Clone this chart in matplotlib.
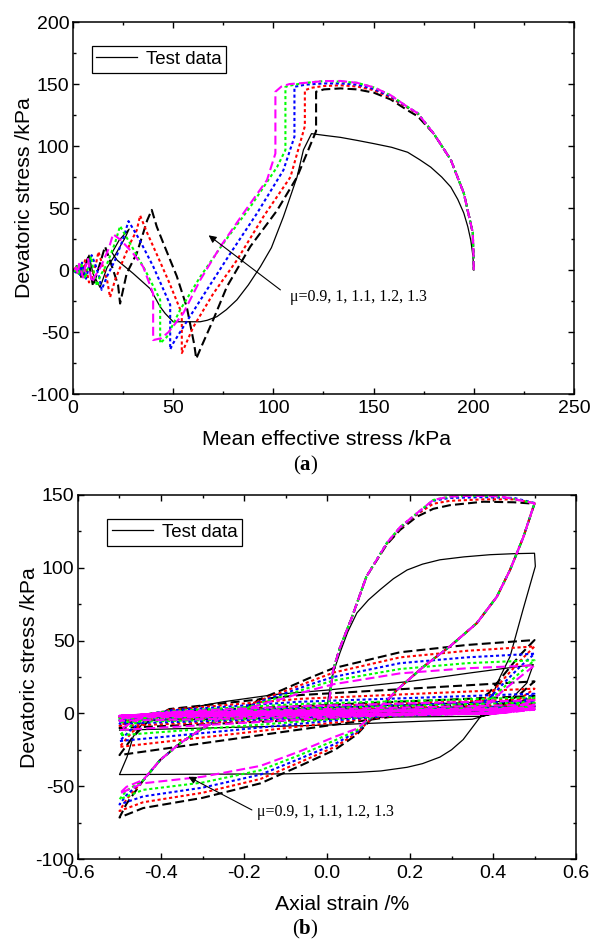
import numpy as np
import matplotlib
matplotlib.use('Agg')
import matplotlib.pyplot as plt
from matplotlib.ticker import MultipleLocator, FormatStrFormatter

plt.rcParams['font.family'] = ['Liberation Sans', 'DejaVu Sans']
plt.rcParams['axes.unicode_minus'] = False
plt.rcParams['mathtext.fontset'] = 'custom'
plt.rcParams['mathtext.rm'] = 'Liberation Serif'
plt.rcParams['mathtext.bf'] = 'Liberation Serif:bold'

# ---------------- (a) stress path: mean effective stress p vs deviatoric stress q
test_pq = [(200, 0), (199.5, 12), (198.5, 24), (197, 35), (195, 46), (192, 57), (188.5, 67),
           (184, 75), (178.5, 83), (173, 89), (167, 95), (159, 99), (150, 102), (142, 104.5),
           (133.5, 107), (126, 108.5), (119, 110), (115, 97), (111.8, 75), (105, 43),
           (99, 18), (93.5, 2.7), (87.5, -12), (81.8, -24), (76.5, -32), (71.8, -37.6),
           (67, -40.5), (63.5, -41.7), (50, -41.7), (46, -35), (43.5, -29.6), (38.5, -15),
           (30, -2.7), (22, 8), (19.5, 14), (23, 24), (28, 33), (26, 26), (21, 12), (17, 2),
           (13.5, -14), (10, -3), (8, 12), (6, 4), (4, -6), (2.5, 3), (1.5, -2), (0.5, 1),
           (0, 0)]

black_pq = [(200, 0), (199.5, 30), (195, 62), (188.5, 89), (180, 110), (172, 124), (166.8, 129),
            (158.5, 137.6), (150.2, 143), (141.8, 145.7), (133.5, 146.5), (125.2, 145.7),
            (121.3, 143.8), (121.3, 112), (111.8, 75), (101.8, 48), (88.5, 19), (76.8, -13.4),
            (70, -40), (64, -62), (61.5, -71.5), (60.5, -60), (56.8, -30), (51.8, -5), (45, 22),
            (41.8, 35), (39.3, 48.5), (37, 40), (35, 29.6), (31.8, 13.4), (26.8, -2.7),
            (23.5, -27), (22.5, -12), (19, 5), (16, 19), (14, 8), (11.5, -5), (10, -13),
            (9, -4), (7.5, 10), (6, 2), (5, -7), (4, 3), (3, -3), (2, 4), (1, -1), (0, 0)]

red_pq = [(200, 0), (199.5, 30), (195, 62), (188.5, 89), (180, 110), (172, 126), (166.8, 131),
          (158.5, 139), (150.2, 145), (141.8, 148), (133.5, 149), (125, 148.4), (119, 147),
          (115.7, 145), (115.7, 116), (108.5, 75), (95, 43), (81.8, 8), (70, -19), (60, -46),
          (55, -64.5), (54.3, -67), (54.3, -35), (48, -10), (42, 12), (37, 30), (33.5, 44),
          (31.8, 32), (28.5, 21.5), (25, 8), (21, -8), (18.5, -22), (17, -8), (14.5, 5),
          (12.7, 14.8), (11.5, 5), (9.5, -5), (8, -10), (7, -2), (6, 8), (4.5, -5), (3.5, 3),
          (2.5, -3), (1.5, 2), (0, 0)]

blue_pq = [(200, 0), (199.5, 30), (195, 62), (188.5, 89), (180, 110), (172, 126.5),
           (166.8, 131.5), (158.5, 140), (150.2, 146), (141.8, 149.5), (133.5, 150.5),
           (125, 150.5), (116, 149.5), (110.5, 147.8), (110.5, 107.5), (105, 80.6),
           (91.8, 45.7), (78.5, 13.4), (66.8, -16), (55, -46), (50, -59), (48.5, -64),
           (48.5, -28), (40, 3), (33, 25), (27.7, 39.5), (25, 25), (21, 8), (17, -5),
           (14.3, -16), (13, -5), (11, 5), (9.3, 12), (8, 3), (6.5, -7), (5.5, -1), (4.5, 6),
           (3.5, -4), (2.5, 3), (1.5, -2), (0, 0)]

green_pq = [(200, 0), (199.5, 30), (195, 62), (188.5, 89), (180, 110), (172, 126.5),
            (166.8, 131.7), (158.5, 141), (150.2, 147.3), (141.8, 151), (133.5, 152),
            (125, 152.4), (116, 151), (109, 149), (106, 147.8), (106, 96.8), (101.8, 83),
            (88.5, 51), (75, 21.5), (63.5, -5.4), (53.5, -32), (46.8, -54), (43.5, -59),
            (43.5, -24), (36, 0), (29, 20), (23.5, 35.5), (21, 22), (17, 5), (13.5, -5),
            (12, -13), (10.5, -3), (9, 11), (7.5, 2), (6, -7), (5, 0), (4, 6), (3, -4),
            (2, 3), (1, -1), (0, 0)]

magenta_pq = [(200, 0), (199.5, 30), (195, 62), (188.5, 89), (180, 110), (172, 126.5),
              (166.8, 131.7), (158.5, 141), (150.2, 147.3), (141.8, 151), (133.5, 152.5),
              (125, 152.4), (116, 151), (108, 150), (104, 148), (101, 143.8), (101, 94),
              (96.8, 72.6), (85, 45.7), (73.5, 18.8), (63.5, -8), (55, -35), (47.7, -50),
              (44, -55), (40, -56.5), (40, -19), (35, 2.7), (30, 13.4), (24, 24), (20, 29),
              (18, 18), (14, 3), (11, -5), (9.5, -10), (8.5, -2), (7.5, 9), (6, 2), (5, -6),
              (4, 0), (3, 5), (2.5, -3), (1.5, 2), (0.5, -1), (0, 0)]

# ---------------- (b) axial strain vs deviatoric stress
test_eq = [(0, 0), (0.003, 11), (0.015, 28), (0.031, 41.5), (0.05, 56), (0.072, 69),
           (0.1, 78), (0.128, 85), (0.16, 92.5), (0.193, 98.5), (0.23, 102.5), (0.272, 105.5),
           (0.33, 107.5), (0.393, 109), (0.45, 109.7), (0.5, 110), (0.502, 101), (0.472, 71),
           (0.441, 39), (0.417, 25), (0.393, 9), (0.369, -2.5), (0.328, -18), (0.3, -25),
           (0.272, -30), (0.23, -34.5), (0.193, -37), (0.13, -39.5), (0.072, -40.5),
           (-0.1, -41.5), (-0.5, -42), (-0.482, -30), (-0.467, -16), (-0.434, -2.5),
           (-0.386, 1), (-0.337, 3.5), (-0.25, 8), (-0.125, 13), (0.0, 16), (0.2, 22),
           (0.35, 28), (0.497, 33.5), (0.481, 20.7), (0.457, 13.8), (0.433, 7), (0.4, 0),
           (0.35, -4), (0.0, -8), (-0.5, -11.5), (-0.46, -4), (-0.4, 0), (0.0, 4), (0.5, 9),
           (0.45, 2), (0.37, -2), (-0.065, -3), (-0.5, -5), (-0.45, -1), (0.5, 5), (0.42, 0),
           (-0.5, -3), (0.5, 3)]

black_eq = [(0, 0), (0.005, 8), (0.015, 30), (0.031, 45), (0.06, 66), (0.095, 94), (0.144, 116),
            (0.176, 126), (0.216, 135), (0.256, 140.5), (0.296, 143), (0.377, 145.4),
            (0.45, 145), (0.5, 144),
            (0.473, 121), (0.441, 98.5), (0.409, 80), (0.361, 62), (0.296, 46), (0.232, 32),
            (0.168, 16), (0.112, -2.3), (0.072, -14.5), (0.019, -25), (-0.065, -36),
            (-0.16, -48), (-0.3, -58), (-0.443, -65), (-0.5, -71.5),
            (-0.483, -62), (-0.443, -46), (-0.402, -32), (-0.354, -20.5), (-0.306, -11.4),
            (-0.258, -3.4), (-0.214, 1.2), (-0.157, 10.4), (-0.109, 16), (-0.045, 24),
            (0.015, 31), (0.176, 42), (0.337, 47), (0.5, 50.4),
            (0.465, 40), (0.43, 28), (0.39, 14), (0.34, 5), (0.011, -8), (-0.5, -28.6),
            (-0.47, -17), (-0.43, -5), (-0.38, 3), (-0.065, 12.6), (0.5, 22),
            (0.46, 12), (0.4, 3), (0.3, 0), (-0.5, -10), (-0.45, -2), (-0.4, 1), (0.5, 12),
            (0.44, 3), (0.35, 0), (-0.5, -5), (-0.42, 0), (0.5, 7), (0.42, 1), (-0.5, -3),
            (-0.4, 0.5), (0.5, 5), (0.4, 0.5), (-0.5, -2.5), (-0.4, 0), (0.5, 4)]

red_eq = [(0, 0), (0.005, 8), (0.015, 30), (0.031, 45), (0.06, 66), (0.095, 94), (0.144, 116.5),
          (0.176, 127), (0.216, 136.5), (0.256, 144), (0.296, 146), (0.377, 147), (0.45, 147),
          (0.5, 144.5),
          (0.473, 121), (0.441, 98.5), (0.409, 80), (0.361, 62), (0.296, 46), (0.232, 32),
          (0.168, 16), (0.112, -2), (0.072, -13.5), (0.019, -23), (-0.065, -33.5),
          (-0.16, -45), (-0.3, -54.5), (-0.443, -61), (-0.5, -67),
          (-0.483, -59), (-0.443, -46), (-0.402, -32), (-0.354, -20.5), (-0.306, -11.4),
          (-0.258, -3.4), (-0.214, 1.2), (-0.157, 9.5), (-0.109, 14.5), (-0.045, 21.5),
          (0.015, 28), (0.176, 38.5), (0.337, 43), (0.5, 46),
          (0.465, 36), (0.43, 25), (0.39, 12), (0.34, 4), (0.011, -6.5), (-0.5, -23),
          (-0.47, -13), (-0.43, -3.5), (-0.38, 2.5), (-0.065, 10), (0.5, 17),
          (0.46, 9), (0.4, 2), (0.3, -0.2), (-0.5, -8.5), (-0.45, -2), (-0.4, 1), (0.5, 10),
          (0.44, 2.5), (0.35, 0), (-0.5, -4.5), (-0.42, 0), (0.5, 6), (0.42, 1), (-0.5, -2.8),
          (-0.4, 0.5), (0.5, 4.5), (0.4, 0.5), (-0.5, -2.2), (-0.4, 0), (0.5, 3.8)]

blue_eq = [(0, 0), (0.005, 8), (0.015, 30), (0.031, 45), (0.06, 66), (0.095, 94), (0.144, 117),
           (0.176, 127.5), (0.216, 137), (0.256, 146), (0.296, 148), (0.377, 148.5),
           (0.45, 148), (0.5, 144.5),
           (0.473, 121), (0.441, 98.5), (0.409, 80), (0.361, 62), (0.296, 46), (0.232, 32),
           (0.168, 16), (0.112, -1.5), (0.072, -12.5), (0.019, -21), (-0.065, -31),
           (-0.16, -42), (-0.3, -51), (-0.443, -57), (-0.5, -62.5),
           (-0.483, -56), (-0.443, -46), (-0.402, -32), (-0.354, -20.5), (-0.306, -11.4),
           (-0.258, -3.4), (-0.214, 1.2), (-0.157, 8.5), (-0.109, 13), (-0.045, 19.5),
           (0.015, 25), (0.176, 34.5), (0.337, 38.5), (0.5, 41),
           (0.465, 32), (0.43, 22), (0.39, 10), (0.34, 3), (0.011, -5), (-0.5, -19),
           (-0.47, -10.5), (-0.43, -2.5), (-0.38, 2), (-0.065, 8), (0.5, 13.5),
           (0.46, 7), (0.4, 1.5), (0.3, -0.5), (-0.5, -7), (-0.45, -1.5), (-0.4, 1), (0.5, 8.5),
           (0.44, 2), (0.35, 0), (-0.5, -4), (-0.42, 0), (0.5, 5), (0.42, 0.8), (-0.5, -2.5),
           (-0.4, 0.3), (0.5, 4), (0.4, 0.3), (-0.5, -2), (-0.4, 0), (0.5, 3.5)]

green_eq = [(0, 0), (0.005, 8), (0.015, 30), (0.031, 45), (0.06, 66), (0.095, 94), (0.144, 117),
            (0.176, 128), (0.216, 137.4), (0.256, 146.6), (0.296, 148.9), (0.35, 149.5),
            (0.42, 149), (0.5, 144.3),
            (0.473, 121), (0.441, 98.5), (0.409, 80), (0.361, 62), (0.296, 46), (0.232, 32),
            (0.168, 16), (0.112, -1), (0.072, -11.5), (0.019, -18.5), (-0.065, -28.5),
            (-0.16, -39), (-0.3, -47.5), (-0.443, -52.5), (-0.5, -59),
            (-0.483, -53), (-0.443, -46), (-0.402, -32), (-0.354, -20.5), (-0.306, -11.4),
            (-0.258, -3.4), (-0.214, 1.2), (-0.157, 7.5), (-0.109, 11.5), (-0.045, 17.5),
            (0.015, 22.5), (0.176, 30.5), (0.337, 34.5), (0.5, 36.5),
            (0.465, 28), (0.43, 19), (0.39, 8.5), (0.34, 2.5), (0.011, -4), (-0.5, -15),
            (-0.47, -8), (-0.43, -2), (-0.38, 1.5), (-0.065, 6.5), (0.5, 11),
            (0.46, 6), (0.4, 1), (0.3, -0.6), (-0.5, -6), (-0.45, -1.2), (-0.4, 0.8), (0.5, 7.5),
            (0.44, 1.8), (0.35, 0), (-0.5, -3.5), (-0.42, 0), (0.5, 4.5), (0.42, 0.6),
            (-0.5, -2.2), (-0.4, 0.2), (0.5, 3.5), (0.4, 0.2), (-0.5, -1.8), (-0.4, 0),
            (0.5, 3.2)]

magenta_eq = [(0, 0), (0.005, 8), (0.015, 30), (0.031, 45), (0.06, 66), (0.095, 94),
              (0.144, 117), (0.176, 128), (0.216, 137.4), (0.256, 146.6), (0.296, 148.9),
              (0.35, 149.5), (0.42, 149), (0.5, 144.3),
              (0.473, 121), (0.441, 98.5), (0.409, 80), (0.361, 62), (0.296, 46), (0.232, 32),
              (0.168, 16), (0.112, -0.5), (0.072, -10.5), (0.019, -16), (-0.065, -26),
              (-0.16, -36), (-0.3, -43.5), (-0.443, -48), (-0.5, -55),
              (-0.483, -50.4), (-0.443, -45.7), (-0.402, -32), (-0.354, -20.5),
              (-0.306, -11.4), (-0.258, -3.4), (-0.214, 1.2), (-0.157, 6.5), (-0.109, 10),
              (-0.045, 15.5), (0.015, 20), (0.176, 27.5), (0.337, 31), (0.5, 33),
              (0.465, 25), (0.43, 17), (0.39, 7), (0.34, 2), (0.011, -3), (-0.5, -11.4),
              (-0.47, -6), (-0.43, -1.5), (-0.38, 1), (-0.065, 5), (0.5, 9),
              (0.46, 5), (0.4, 0.5), (0.3, -0.7), (-0.5, -5), (-0.45, -1), (-0.4, 0.5), (0.5, 6),
              (0.44, 1.5), (0.35, 0), (-0.5, -3), (-0.42, 0), (0.5, 4), (0.42, 0.5), (-0.5, -2),
              (-0.4, 0), (0.5, 3), (0.4, 0), (-0.5, -1.8), (-0.4, -0.2), (0.5, 2.8),
              (0.4, -0.2), (-0.5, -1.6), (-0.4, -0.3), (0.5, 2.6), (0.4, -0.3), (-0.5, -1.5),
              (-0.4, -0.4), (0.5, 2.5)]

mu_label = 'μ=0.9, 1, 1.1, 1.2, 1.3'

# colour, dash pattern (in linewidth units) for mu = 0.9, 1, 1.1, 1.2, 1.3
sim_styles = [('black', (4.3, 2.0)), ('#ff0000', (1.5, 1.3)), ('#0000ff', (1.5, 1.3)),
              ('#00ff00', (1.5, 1.3)), ('#ff00ff', (4.3, 2.0))]


def style_axes(ax, xlim, ylim, xmaj, xmin, ymaj, ymin):
    ax.set_xlim(*xlim)
    ax.set_ylim(*ylim)
    ax.xaxis.set_major_locator(MultipleLocator(xmaj))
    ax.xaxis.set_minor_locator(MultipleLocator(xmin))
    ax.yaxis.set_major_locator(MultipleLocator(ymaj))
    ax.yaxis.set_minor_locator(MultipleLocator(ymin))
    ax.tick_params(which='both', direction='in', top=True, right=True, width=1.0,
                   labelsize=14)
    ax.tick_params(axis='x', pad=4.5)
    ax.tick_params(axis='y', pad=2.5)
    ax.tick_params(which='major', length=4)
    ax.tick_params(which='minor', length=2.5)
    for s in ax.spines.values():
        s.set_linewidth(1.1)


def draw(ax, test, sims):
    arr = np.array(test)
    ax.plot(arr[:, 0], arr[:, 1], color='black', lw=0.9, label='Test data')
    for data, (c, d) in zip(sims, sim_styles):
        arr = np.array(data)
        ax.plot(arr[:, 0], arr[:, 1], color=c, lw=1.5, dashes=d)
    leg = ax.legend(loc='upper left', frameon=True, fancybox=False, edgecolor='black',
                    framealpha=1, fontsize=13.5, handlelength=2.2, handletextpad=0.45,
                    borderpad=0.25, borderaxespad=0)
    leg.get_frame().set_linewidth(0.9)
    return leg


fig = plt.figure(figsize=(5.9, 9.47), dpi=100)

ax1 = fig.add_axes([0.1237, 0.5839, 0.8492, 0.3928])
leg = draw(ax1, test_pq, [black_pq, red_pq, blue_pq, green_pq, magenta_pq])
leg.set_bbox_to_anchor((0.037, 0.935))
style_axes(ax1, (0, 250), (-100, 200), 50, 25, 50, 25)
ax1.set_xlabel('Mean effective stress /kPa', fontsize=15.3)
ax1.set_ylabel('Devatoric stress /kPa', fontsize=15.3)
ax1.xaxis.set_label_coords(0.505, -0.097)
ax1.yaxis.set_label_coords(-0.078, 0.527)
ax1.annotate('', xy=(67.7, 28), xytext=(103.5, -16),
             arrowprops=dict(arrowstyle='-|>', color='black', lw=0.8, mutation_scale=11,
                             shrinkA=0, shrinkB=0))
ax1.text(108.5, -21.5, mu_label, fontsize=11.5, family='Liberation Serif',
         va='center', ha='left')

ax2 = fig.add_axes([0.1322, 0.0929, 0.8441, 0.3844])
leg = draw(ax2, test_eq, [black_eq, red_eq, blue_eq, green_eq, magenta_eq])
leg.set_bbox_to_anchor((0.059, 0.934))
style_axes(ax2, (-0.6, 0.6), (-100, 150), 0.2, 0.1, 50, 25)
ax2.xaxis.set_major_formatter(FormatStrFormatter('%.1f'))
ax2.set_xlabel('Axial strain /%', fontsize=15.3)
ax2.set_ylabel('Devatoric stress /kPa', fontsize=15.3)
ax2.xaxis.set_label_coords(0.53, -0.099)
ax2.yaxis.set_label_coords(-0.078, 0.527)
ax2.annotate('', xy=(-0.334, -43.5), xytext=(-0.181, -66.3),
             arrowprops=dict(arrowstyle='-|>', color='black', lw=0.8, mutation_scale=11,
                             shrinkA=0, shrinkB=0))
ax2.text(-0.169, -67.5, mu_label, fontsize=11.5, family='Liberation Serif',
         va='center', ha='left')

fig.text(0.518, 0.508, r'($\mathbf{a}$)', fontsize=15, family='Liberation Serif',
         ha='center', va='center')
fig.text(0.518, 0.018, r'($\mathbf{b}$)', fontsize=15, family='Liberation Serif',
         ha='center', va='center')

fig.savefig('out.png', dpi=100)
